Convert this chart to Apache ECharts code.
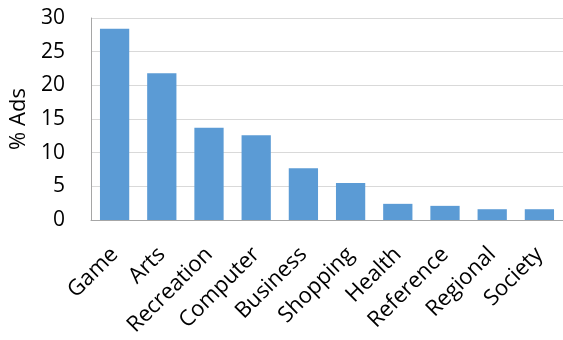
<!DOCTYPE html>
<html><head><meta charset="utf-8">
<script src="https://cdn.jsdelivr.net/npm/echarts@6/dist/echarts.min.js"></script>
<style>html,body{margin:0;padding:0;background:#fff}#c{width:563px;height:340px}</style>
</head><body><div id="c"></div>
<script>
var categories = ["Game","Arts","Recreation","Computer","Business","Shopping","Health","Reference","Regional","Society"];
var values = [28.4, 21.8, 13.7, 12.6, 7.7, 5.5, 2.4, 2.1, 1.6, 1.6];
var yTicks = {min: 0, max: 30, interval: 5};
var yName = "% Ads";
var font = "'Open Sans', sans-serif";
var chart = echarts.init(document.getElementById('c'));
chart.setOption({
  animation: false,
  grid: {left: 91, top: 18, right: 0, bottom: 120, containLabel: false, outerBoundsMode: 'none'},
  xAxis: {
    type: 'category', data: categories,
    axisLine: {lineStyle: {color: '#a6a6a6', width: 1}},
    axisTick: {show: false},
    axisLabel: {rotate: 45, margin: 31, color: '#000', fontSize: 22, fontFamily: font, interval: 0}
  },
  yAxis: {
    type: 'value', min: yTicks.min, max: yTicks.max, interval: yTicks.interval,
    name: yName, nameLocation: 'middle', nameGap: 58,
    nameTextStyle: {color: '#000', fontSize: 22, fontFamily: font},
    axisLine: {show: true, lineStyle: {color: '#a6a6a6', width: 1}},
    axisTick: {show: false},
    splitLine: {lineStyle: {color: '#d9d9d9', width: 1}},
    axisLabel: {margin: 26, color: '#000', fontSize: 21, fontFamily: font}
  },
  series: [{
    type: 'bar', data: values, barCategoryGap: '38%',
    itemStyle: {color: '#5b9bd5'}
  }]
});
</script></body></html>
